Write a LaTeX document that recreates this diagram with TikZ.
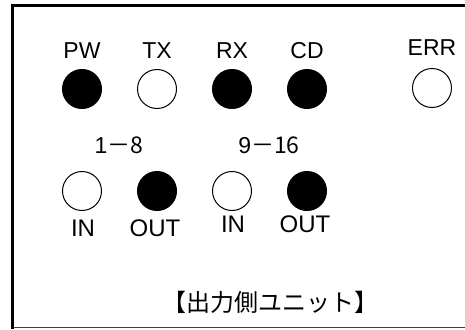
\documentclass[tikz,border=0pt]{standalone}
\usepackage{fontspec}
\setmainfont{Liberation Sans}
\newfontfamily\cjk{Noto Sans CJK JP}

\tikzset{
  lampon/.style={circle, draw, line width=1pt, fill=black, minimum size=39pt, inner sep=0pt},
  lampoff/.style={circle, draw, line width=1pt, fill=white, minimum size=39pt, inner sep=0pt},
  lbl/.style={inner sep=0pt, font=\fontsize{23}{23}\selectfont},
  iolbl/.style={inner sep=0pt, font=\fontsize{24}{24}\selectfont}
}

\begin{document}
\begin{tikzpicture}[x=1pt, y=-1pt]
    \useasboundingbox (0,0) rectangle (465,329);

    % Frame
    \draw[line width=3pt] (465,5.5) -- (12.5,5.5) -- (12.5,329);
    \draw[line width=1pt, black!75] (14,327.5) -- (465,327.5);

    % Status lamps
    \node[lampon] (pw) at (82,89) {};
    \node[lampoff] (tx) at (157,89) {};
    \node[lampon] (rx) at (232,89) {};
    \node[lampon] (cd) at (307,89) {};
    \node[lampoff] (err) at (432,88) {};
    \node[lbl] (pwlbl) at (82,51) {PW};
    \node[lbl] (txlbl) at (157,51) {TX};
    \node[lbl] (rxlbl) at (232,51) {RX};
    \node[lbl] (cdlbl) at (307,51) {CD};
    \node[lbl] (errlbl) at (432,48) {ERR};

    % Channel groups
    \node[lbl] (grpa) at (119,145) {1\cjk{－}8};
    \node[lbl] (grpb) at (269,145) {9\cjk{－}16};

    % Port lamps
    \node[lampoff] (ina) at (82,191) {};
    \node[lampon] (outa) at (157,191) {};
    \node[lampoff] (inb) at (232,191) {};
    \node[lampon] (outb) at (307,191) {};
    \node[iolbl] (inalbl) at (83,228) {IN};
    \node[iolbl] (outalbl) at (155,228) {OUT};
    \node[iolbl] (inblbl) at (233,224) {IN};
    \node[iolbl] (outblbl) at (305,224) {OUT};

    % Caption
    \node[inner sep=0pt, font=\cjk\fontsize{24}{24}\selectfont] (caption) at (270,302) {【出力側ユニット】};
\end{tikzpicture}
\end{document}
